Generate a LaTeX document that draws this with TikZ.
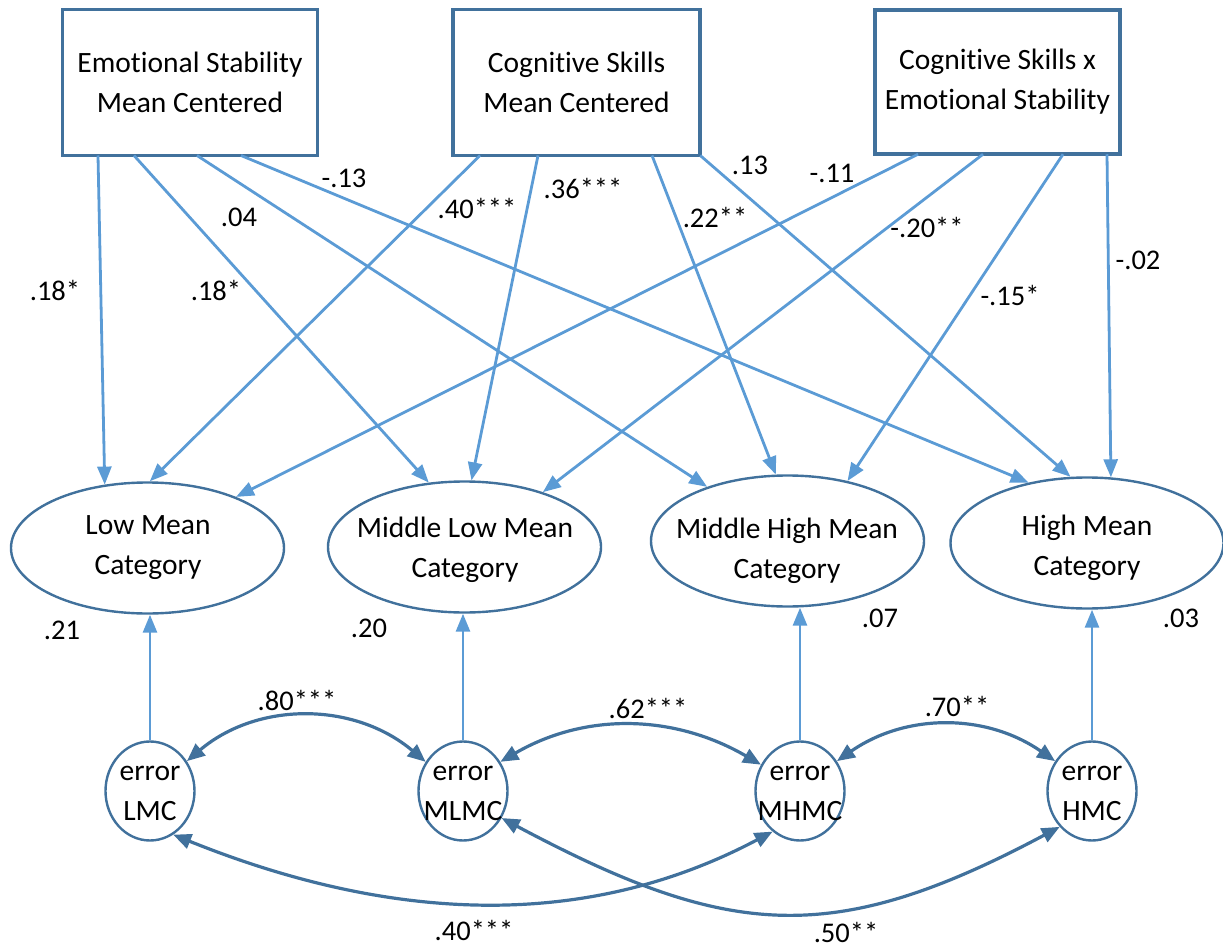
\documentclass[tikz,border=0pt]{standalone}
\usepackage{fontspec}
\setmainfont{Carlito}[Ligatures={TeX,NoCommon}]
\usetikzlibrary{arrows.meta,shapes.geometric}
\definecolor{frameblue}{HTML}{41719C}
\definecolor{pathblue}{HTML}{5B9BD5}
\begin{document}
\begin{tikzpicture}[x=1pt,y=-1pt,
  every node/.style={font=\fontsize{29.5}{40}\selectfont, text=black},
  predictor/.style={draw=frameblue, line width=3.6pt, rectangle, align=center,
    inner sep=0pt, outer sep=0pt},
  category/.style={draw=frameblue, line width=2.4pt, ellipse, inner sep=0pt,
    minimum width=273pt, minimum height=131pt},
  residual/.style={draw=frameblue, line width=2.4pt, ellipse, inner sep=0pt,
    minimum width=89pt, minimum height=99pt},
  caption/.style={align=center, inner sep=0pt},
  coef/.style={inner sep=0pt, font=\fontsize{28.5}{34}\selectfont},
  effect/.style={draw=pathblue, line width=2.8pt, -{Triangle[length=18pt,width=14pt]}},
  covar/.style={draw=frameblue, line width=3.2pt,
    {Triangle[length=18pt,width=15pt]}-{Triangle[length=18pt,width=15pt]}},
]
\useasboundingbox (0,0) rectangle (1223,949);

% predictors
\node[predictor, minimum width=255pt, minimum height=146pt] (es) at (190,82.5)
  {Emotional Stability\\Mean Centered};
\node[predictor, minimum width=247.5pt, minimum height=146pt] (cs) at (576.5,82.5)
  {Cognitive Skills\\Mean Centered};
\node[predictor, minimum width=245.5pt, minimum height=144.5pt] (ix) at (997.5,82)
  {Cognitive Skills x\\Emotional Stability};

% outcome categories
\node[category] (low) at (147.5,548) {};
\node[caption] (lowtxt) at (148,548) {Low Mean\\Category};
\node[category] (ml) at (464.5,547) {};
\node[caption] (mltxt) at (465,550) {Middle Low Mean\\Category};
\node[category] (mh) at (787.5,541) {};
\node[caption] (mhtxt) at (787,551) {Middle High Mean\\Category};
\node[category] (h) at (1087,543) {};
\node[caption] (htxt) at (1087,548) {High Mean\\Category};

% error terms
\node[residual] (lmc) at (150,791) {};
\node[caption] (lmctxt) at (150,793) {error\\LMC};
\node[residual] (mlmc) at (463,791) {};
\node[caption] (mlmctxt) at (463,793) {error\\MLMC};
\node[residual] (mhmc) at (800,791) {};
\node[caption] (mhmctxt) at (800,793) {error\\MHMC};
\node[residual] (hmc) at (1092,791) {};
\node[caption] (hmctxt) at (1092,793) {error\\HMC};

% paths from Emotional Stability
\draw[effect] ([xshift=35.5pt]es.south west) -- (low.124);
\draw[effect] ([xshift=71.5pt]es.south west) -- (ml.119);
\draw[effect] ([xshift=134.5pt]es.south west) -- (mh.146);
\draw[effect] ([xshift=178.5pt]es.south west) -- (h.134);
% paths from Cognitive Skills
\draw[effect] ([xshift=27.25pt]cs.south west) -- (low.88);
\draw[effect] ([xshift=85.25pt]cs.south west) -- (ml.84);
\draw[effect] ([xshift=199.25pt]cs.south west) -- (mh.100);
\draw[effect] (cs.south east) -- (h.104.5);
% paths from the interaction term
\draw[effect] ([xshift=43.25pt]ix.south west) -- (low.30);
\draw[effect] ([xshift=108.25pt]ix.south west) -- (ml.35);
\draw[effect] ([xshift=188.25pt]ix.south west) -- (mh.45);
\draw[effect] ([xshift=232.25pt]ix.south west) -- (h.70.5);

% path coefficients
\node[coef] (b1) at (55,290) {.18*};
\node[coef] (b2) at (216,290) {.18*};
\node[coef] (b3) at (239,217) {.04};
\node[coef] (b4) at (344,178) {-.13};
\node[coef] (b5) at (477,208) {.40***};
\node[coef] (b6) at (583,188) {.36***};
\node[coef] (b7) at (715,217) {.22**};
\node[coef] (b8) at (750,165) {.13};
\node[coef] (b9) at (832,173) {-.11};
\node[coef] (b10) at (927,227) {-.20**};
\node[coef] (b11) at (1010,295) {-.15*};
\node[coef] (b12) at (1138,260) {-.02};

% error terms into categories
\draw[effect] (lmc.north) -- (lmc.north |- low.south);
\draw[effect] (mlmc.north) -- (mlmc.north |- ml.south);
\draw[effect] (mhmc.north) -- (mhmc.north |- mh.south);
\draw[effect] (hmc.north) -- (hmc.north |- h.south);

% explained variance
\node[coef] (r1) at (62,630) {.21};
\node[coef] (r2) at (369,628) {.20};
\node[coef] (r3) at (880,618) {.07};
\node[coef] (r4) at (1181,618) {.03};

% error covariances
\draw[covar] (lmc.39) .. controls +(71,-60) and +(-71,-60) .. (mlmc.142);
\draw[covar] (mlmc.38) .. controls +(86,-50) and +(-86,-50) .. (mhmc.146);
\draw[covar] (mhmc.39) .. controls +(69,-48) and +(-69,-48) .. (hmc.141);
\draw[covar] (lmc.298) .. controls +(206,83) and +(-196,104) .. (mhmc.236);
\draw[covar] (mlmc.325) .. controls +(227,121) and +(-227,121) .. (hmc.228);

\node[coef] (k1) at (297,700) {.80***};
\node[coef] (k2) at (648,708) {.62***};
\node[coef] (k3) at (957,706) {.70**};
\node[coef] (k4) at (474,930) {.40***};
\node[coef] (k5) at (846,932) {.50**};
\end{tikzpicture}
\end{document}
